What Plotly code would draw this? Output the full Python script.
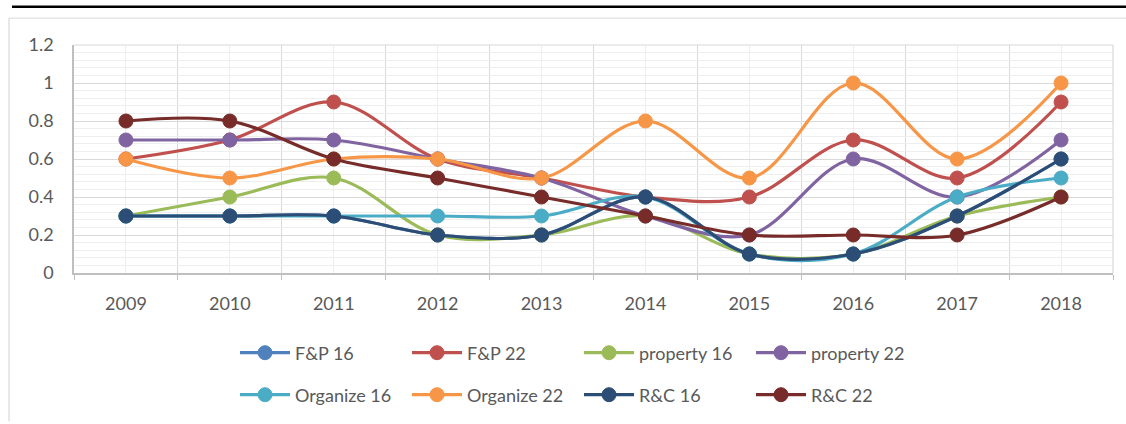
import plotly.graph_objects as go

years = ["2009", "2010", "2011", "2012", "2013", "2014", "2015", "2016", "2017", "2018"]
fp16 = [0.3, 0.3, 0.3, 0.2, 0.2, 0.4, 0.1, 0.1, 0.3, 0.6]
fp22 = [0.6, 0.7, 0.9, 0.6, 0.5, 0.4, 0.4, 0.7, 0.5, 0.9]
prop16 = [0.3, 0.4, 0.5, 0.2, 0.2, 0.3, 0.1, 0.1, 0.3, 0.4]
prop22 = [0.7, 0.7, 0.7, 0.6, 0.5, 0.3, 0.2, 0.6, 0.4, 0.7]
org16 = [0.3, 0.3, 0.3, 0.3, 0.3, 0.4, 0.1, 0.1, 0.4, 0.5]
org22 = [0.6, 0.5, 0.6, 0.6, 0.5, 0.8, 0.5, 1.0, 0.6, 1.0]
rc16 = [0.3, 0.3, 0.3, 0.2, 0.2, 0.4, 0.1, 0.1, 0.3, 0.6]
rc22 = [0.8, 0.8, 0.6, 0.5, 0.4, 0.3, 0.2, 0.2, 0.2, 0.4]

series = [
    ("F&P 16", fp16, "#4F81BD", "legend"),
    ("F&P 22", fp22, "#C0504D", "legend"),
    ("property 16", prop16, "#9BBB59", "legend"),
    ("property 22", prop22, "#8064A2", "legend"),
    ("Organize 16", org16, "#4BACC6", "legend2"),
    ("Organize 22", org22, "#F79646", "legend2"),
    ("R&C 16", rc16, "#2C4D75", "legend2"),
    ("R&C 22", rc22, "#772C2A", "legend2"),
]

W, H = 1126, 424
L, R, T, B = 74, 13, 45, 150
PW, PH = W - L - R, H - T - B


def px(x):
    return (x - L) / PW


def py(y):
    return (H - B - y) / PH


xs = list(range(len(years)))
fig = go.Figure()
for name, vals, color, lg in series:
    fig.add_trace(go.Scatter(
        x=xs, y=vals, name=name, mode="lines+markers",
        line=dict(color=color, width=3.2, shape="spline", smoothing=1.0),
        marker=dict(color=color, size=14, line=dict(color=color, width=1)),
        legend=lg,
    ))

font_family = "Lato, 'Open Sans', sans-serif"
tick_font = dict(family=font_family, size=18, color="#595959")

shapes = [
    # top black rule
    dict(type="line", xref="paper", yref="paper", x0=px(12), x1=px(1126), y0=py(6.5), y1=py(6.5),
         line=dict(color="#000000", width=2.5)),
    # chart border (top and left)
    dict(type="line", xref="paper", yref="paper", x0=px(9), x1=px(1126), y0=py(18), y1=py(18),
         line=dict(color="#d9d9d9", width=1)),
    dict(type="line", xref="paper", yref="paper", x0=px(9), x1=px(9), y0=py(18), y1=py(423),
         line=dict(color="#d9d9d9", width=1.2)),
    # plot area top and right border
    dict(type="line", xref="paper", yref="paper", x0=0, x1=1, y0=1, y1=1,
         line=dict(color="#d9d9d9", width=1.2)),
    dict(type="line", xref="paper", yref="paper", x0=1, x1=1, y0=0, y1=1,
         line=dict(color="#d9d9d9", width=1.2)),
]

legend_common = dict(
    orientation="h", xanchor="left", yanchor="middle",
    entrywidth=107, entrywidthmode="pixels", itemwidth=50,
    font=dict(family=font_family, size=18, color="#595959"),
    bgcolor="rgba(0,0,0,0)", tracegroupgap=0,
)

fig.update_layout(
    width=W, height=H,
    margin=dict(l=L, r=R, t=T, b=B),
    paper_bgcolor="white", plot_bgcolor="white",
    showlegend=True,
    shapes=shapes,
    xaxis=dict(
        range=[-0.5, len(years) - 0.5],
        tickmode="array", tickvals=xs, ticktext=years,
        showgrid=True, gridcolor="#eeeeee", gridwidth=1.2,
        minor=dict(tickmode="array", tickvals=[i - 0.5 for i in range(len(years) + 1)],
                   showgrid=True, gridcolor="#d9d9d9", gridwidth=1.2,
                   ticks="outside", ticklen=5, tickcolor="#bfbfbf"),
        showline=True, linecolor="#bfbfbf", linewidth=1.5,
        ticks="", ticklabelstandoff=14,
        tickfont=tick_font, zeroline=False, fixedrange=True,
    ),
    yaxis=dict(
        range=[0, 1.2], dtick=0.2, tick0=0,
        showgrid=True, gridcolor="#d9d9d9", gridwidth=1.2,
        minor=dict(dtick=0.04, showgrid=True, gridcolor="#eeeeee", gridwidth=1.2),
        showline=True, linecolor="#bfbfbf", linewidth=1.5,
        ticks="", ticklabelstandoff=15,
        tickfont=tick_font, zeroline=False, fixedrange=True,
    ),
    legend=dict(legend_common, x=px(235), y=py(353)),
    legend2=dict(legend_common, x=px(235), y=py(395)),
)

fig.write_html(
    "out.html",
    config={"displayModeBar": False},
    post_script="document.body.style.margin='0';document.body.style.padding='0';",
)
